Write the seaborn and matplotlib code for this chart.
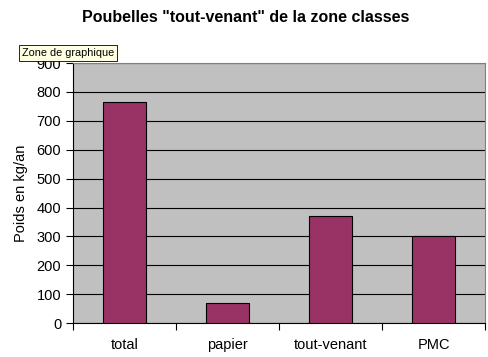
import matplotlib
matplotlib.use("Agg")
import matplotlib.pyplot as plt
import seaborn as sns
import pandas as pd

categories = ["total", "papier", "tout-venant", "PMC"]
poids = [765, 68, 370, 300]
yticks = [0, 100, 200, 300, 400, 500, 600, 700, 800, 900]

df = pd.DataFrame({"categorie": categories, "poids": poids})

sns.set_style("white")
plt.rcParams["font.family"] = ["Liberation Sans", "DejaVu Sans"]
plt.rcParams["text.color"] = "black"
plt.rcParams["axes.labelcolor"] = "black"
plt.rcParams["xtick.color"] = "black"
plt.rcParams["ytick.color"] = "black"

fig = plt.figure(figsize=(4.88, 3.57), dpi=100)
ax = fig.add_axes([0.1496, 0.0952, 0.8443, 0.728])
ax.set_facecolor("#C0C0C0")

sns.barplot(data=df, x="categorie", y="poids", color="#993366", width=0.41,
            edgecolor="black", linewidth=0.8, saturation=1, ax=ax, zorder=3)

ax.set_ylim(0, 900)
ax.set_xlim(-0.5, 3.5)
ax.set_yticks(yticks)
ax.yaxis.grid(True, color="black", linewidth=0.8, zorder=0)
ax.set_axisbelow(True)
ax.tick_params(axis="y", which="major", length=5, width=0.8, direction="out", labelsize=10.5, left=True, color="black")
ax.set_xticks([0, 1, 2, 3])
ax.set_xticks([-0.5, 0.5, 1.5, 2.5, 3.5], minor=True)
ax.tick_params(axis="x", which="major", length=0, labelsize=10.5, pad=11)
ax.tick_params(axis="x", which="minor", length=5, width=0.8, direction="out", bottom=True, color="black")
ax.set_xlabel("")
ax.set_ylabel("Poids en kg/an", fontsize=10.5, labelpad=6)

for s in ["left", "bottom"]:
    ax.spines[s].set_color("black")
    ax.spines[s].set_linewidth(0.8)
for s in ["top", "right"]:
    ax.spines[s].set_color("#808080")
    ax.spines[s].set_linewidth(0.8)

fig.text(0.503, 0.95, 'Poubelles "tout-venant" de la zone classes', ha="center", va="center",
         fontsize=11.5, fontweight="bold")
fig.text(0.045, 0.852, "Zone de graphique", ha="left", va="center", fontsize=7.8,
         bbox=dict(boxstyle="square,pad=0.25", facecolor="#FFFFE1", edgecolor="black", linewidth=0.6),
         zorder=10)

fig.savefig("out.png", dpi=100)
